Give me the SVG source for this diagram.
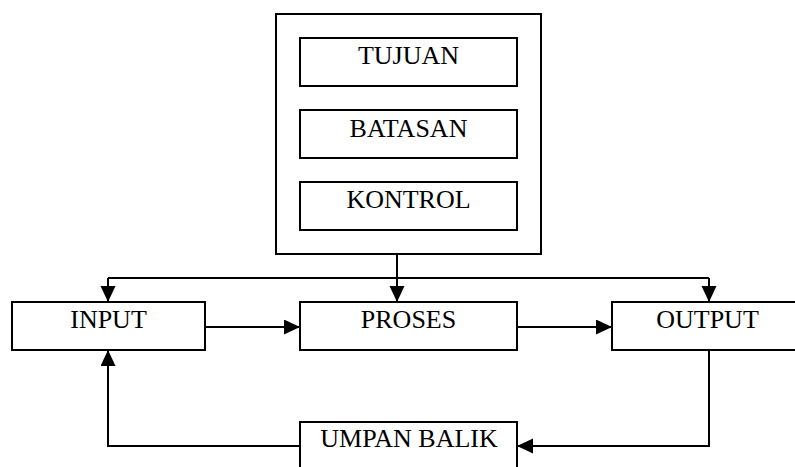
<svg xmlns="http://www.w3.org/2000/svg" width="795" height="467" viewBox="0 0 795 467">
<style>
.box{fill:#fff;stroke:#000;stroke-width:2}
.lbl{font-family:"Liberation Serif","Times New Roman",serif;font-size:26px;fill:#000;text-anchor:middle}
.ln{fill:none;stroke:#000;stroke-width:2}
</style>
<defs>
<marker id="ah" markerUnits="userSpaceOnUse" markerWidth="16" markerHeight="16" refX="16" refY="7.5" orient="auto">
<path d="M0,0 L16,7.5 L0,15 z" fill="#000"/>
</marker>
</defs>
<rect width="795" height="467" fill="#fff"/>
<g id="container"><rect class="box" x="276" y="14" width="265" height="240"/></g>
<g id="tujuan"><rect class="box" x="300" y="38" width="217" height="48"/><text class="lbl" x="408.5" y="64">TUJUAN</text></g>
<g id="batasan"><rect class="box" x="300" y="110" width="217" height="48"/><text class="lbl" x="408.5" y="136.5">BATASAN</text></g>
<g id="kontrol"><rect class="box" x="300" y="182" width="217" height="48"/><text class="lbl" x="408.5" y="207.5">KONTROL</text></g>
<g id="input"><rect class="box" x="12" y="302" width="193" height="48"/><text class="lbl" x="108.5" y="328">INPUT</text></g>
<g id="proses"><rect class="box" x="300" y="302" width="217" height="48"/><text class="lbl" x="408.5" y="328">PROSES</text></g>
<g id="output"><rect class="box" x="612" y="302" width="191" height="48"/><text class="lbl" x="707.5" y="328">OUTPUT</text></g>
<g id="umpan"><rect class="box" x="300" y="422" width="217" height="60"/><text class="lbl" x="409" y="446.5">UMPAN BALIK</text></g>
<g id="connectors">
<line class="ln" x1="108" y1="278" x2="709" y2="278"/>
<line class="ln" x1="397" y1="254" x2="397" y2="302" marker-end="url(#ah)"/>
<line class="ln" x1="108" y1="278" x2="108" y2="302" marker-end="url(#ah)"/>
<line class="ln" x1="709" y1="278" x2="709" y2="302" marker-end="url(#ah)"/>
<line class="ln" x1="205" y1="327" x2="300" y2="327" marker-end="url(#ah)"/>
<line class="ln" x1="517" y1="327" x2="612" y2="327" marker-end="url(#ah)"/>
<polyline class="ln" points="709,350 709,446 517,446" marker-end="url(#ah)"/>
<polyline class="ln" points="300,446 108,446 108,350" marker-end="url(#ah)"/>
</g>
</svg>
